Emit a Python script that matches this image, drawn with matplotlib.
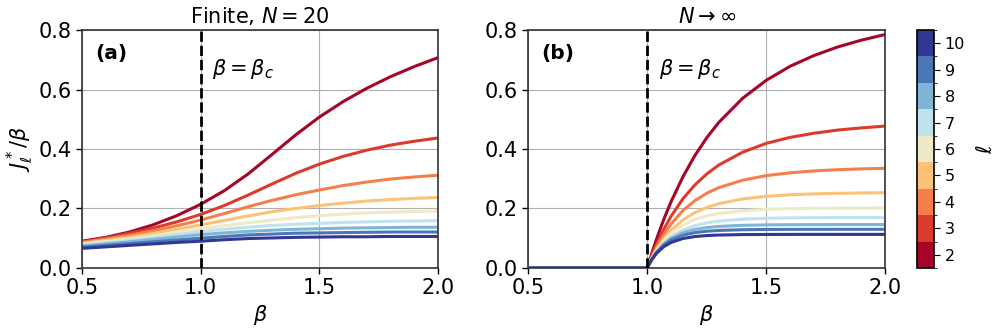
import numpy as np
import matplotlib
matplotlib.use("Agg")
import matplotlib.pyplot as plt
from matplotlib.colors import ListedColormap, BoundaryNorm
from matplotlib.cm import ScalarMappable

ells = [2, 3, 4, 5, 6, 7, 8, 9, 10]
colors = ["#a50527", "#dc3a2c", "#f57f4a", "#fcc275", "#eeeac8",
          "#bfe2ed", "#7db5d8", "#4a78b5", "#323694"]

beta_a = [0.5, 0.6, 0.7, 0.8, 0.9, 1.0, 1.1, 1.2, 1.3, 1.4, 1.5, 1.6, 1.7, 1.8, 1.9, 2.0]
finite = {
    2:  [0.090, 0.103, 0.121, 0.145, 0.176, 0.214, 0.260, 0.316, 0.381, 0.447, 0.507, 0.559, 0.604, 0.643, 0.677, 0.707],
    3:  [0.088, 0.101, 0.117, 0.134, 0.155, 0.180, 0.210, 0.245, 0.282, 0.318, 0.349, 0.375, 0.396, 0.413, 0.426, 0.437],
    4:  [0.086, 0.097, 0.110, 0.125, 0.142, 0.161, 0.183, 0.206, 0.227, 0.246, 0.262, 0.277, 0.289, 0.299, 0.306, 0.312],
    5:  [0.083, 0.093, 0.104, 0.116, 0.130, 0.145, 0.160, 0.175, 0.189, 0.200, 0.210, 0.218, 0.225, 0.230, 0.234, 0.237],
    6:  [0.080, 0.089, 0.098, 0.108, 0.120, 0.132, 0.142, 0.152, 0.161, 0.169, 0.176, 0.181, 0.185, 0.188, 0.190, 0.191],
    7:  [0.077, 0.085, 0.093, 0.102, 0.112, 0.122, 0.130, 0.137, 0.143, 0.147, 0.150, 0.153, 0.155, 0.157, 0.158, 0.159],
    8:  [0.074, 0.081, 0.088, 0.096, 0.104, 0.112, 0.118, 0.123, 0.127, 0.130, 0.132, 0.134, 0.135, 0.136, 0.137, 0.137],
    9:  [0.070, 0.076, 0.082, 0.088, 0.094, 0.100, 0.106, 0.111, 0.114, 0.117, 0.118, 0.119, 0.120, 0.121, 0.121, 0.121],
    10: [0.066, 0.071, 0.076, 0.081, 0.086, 0.090, 0.095, 0.099, 0.101, 0.103, 0.104, 0.105, 0.105, 0.106, 0.106, 0.106],
}

beta_b = [0.5, 1.0, 1.01, 1.02, 1.04, 1.07, 1.1, 1.15, 1.2, 1.25, 1.3, 1.4, 1.5, 1.6, 1.7, 1.8, 1.9, 2.0]
infinite = {
    2:  [0.0, 0.0, 0.026, 0.052, 0.0996, 0.165, 0.223, 0.307, 0.378, 0.438, 0.489, 0.570, 0.631, 0.678, 0.714, 0.743, 0.766, 0.785],
    3:  [0.0, 0.0, 0.022, 0.043, 0.081, 0.131, 0.174, 0.233, 0.279, 0.316, 0.346, 0.389, 0.419, 0.439, 0.453, 0.4636, 0.471, 0.477],
    4:  [0.0, 0.0, 0.0197, 0.0381, 0.0714, 0.1136, 0.148, 0.193, 0.2264, 0.2512, 0.270, 0.295, 0.3105, 0.320, 0.3263, 0.3304, 0.3332, 0.335],
    5:  [0.0, 0.0, 0.0176, 0.0338, 0.0627, 0.0982, 0.1265, 0.1616, 0.1862, 0.2036, 0.2162, 0.2321, 0.2409, 0.2461, 0.2491, 0.2510, 0.2522, 0.253],
    6:  [0.0, 0.0, 0.0173, 0.0330, 0.0602, 0.0923, 0.1166, 0.1449, 0.1632, 0.1752, 0.1833, 0.1926, 0.1971, 0.1994, 0.2007, 0.2014, 0.2018, 0.202],
    7:  [0.0, 0.0, 0.0161, 0.0305, 0.0552, 0.0836, 0.1045, 0.128, 0.1425, 0.1517, 0.1577, 0.1641, 0.1671, 0.1685, 0.1692, 0.1695, 0.1697, 0.1698],
    8:  [0.0, 0.0, 0.0164, 0.0309, 0.0548, 0.0812, 0.0995, 0.1187, 0.1296, 0.136, 0.1397, 0.1434, 0.1449, 0.1455, 0.1458, 0.1459, 0.146, 0.146],
    9:  [0.0, 0.0, 0.0163, 0.0305, 0.0534, 0.0779, 0.0941, 0.1103, 0.1189, 0.1236, 0.1262, 0.1286, 0.1295, 0.1298, 0.1299, 0.130, 0.130, 0.130],
    10: [0.0, 0.0, 0.0157, 0.029, 0.0503, 0.072, 0.0859, 0.0991, 0.1057, 0.109, 0.1108, 0.1123, 0.1127, 0.1129, 0.113, 0.113, 0.113, 0.113],
}

FS = 15
plt.rcParams['font.family'] = ['DejaVu Sans']
plt.rcParams['mathtext.fontset'] = 'dejavusans'

fig = plt.figure(figsize=(9.97, 3.32), dpi=100)
axA = fig.add_axes([0.0822, 0.1928, 0.357, 0.7168])
axB = fig.add_axes([0.5299, 0.1928, 0.358, 0.7168])
cax = fig.add_axes([0.9198, 0.1928, 0.0171, 0.7168])

for ax, xs, data, lab in [(axA, beta_a, finite, "(a)"), (axB, beta_b, infinite, "(b)")]:
    ax.grid(True, color="#b0b0b0", lw=0.8, zorder=0)
    for l, c in zip(ells, colors):
        ax.plot(xs, data[l], color=c, lw=2.2, zorder=2, solid_capstyle="butt")
    ax.axvline(1.0, color="black", ls=(0, (3.7, 1.4)), lw=2.0, zorder=3)
    ax.set_xlim(0.5, 2.0)
    ax.set_ylim(0.0, 0.8)
    ax.set_xticks([0.5, 1.0, 1.5, 2.0])
    ax.set_yticks([0.0, 0.2, 0.4, 0.6, 0.8])
    ax.tick_params(labelsize=FS, length=4, width=1.0)
    for s in ax.spines.values():
        s.set_linewidth(1.2)
        s.set_color("#333333")
    ax.set_xlabel(r"$\beta$", fontsize=FS, labelpad=3)
    ax.text(0.037, 0.9, lab, transform=ax.transAxes, fontsize=FS - 0.5,
            fontweight="bold", ha="left", va="center")
    ax.text(1.05, 0.67, r"$\beta = \beta_c$", fontsize=FS, ha="left", va="center")

axA.set_title(r"Finite, $N = 20$", fontsize=FS, pad=5)
axB.set_title(r"$N \to \infty$", fontsize=FS, pad=5)
axA.set_ylabel(r"$J_\ell^*/\beta$", fontsize=FS, labelpad=2)

cmap = ListedColormap(colors)
norm = BoundaryNorm(np.arange(1.5, 11.5, 1.0), cmap.N)
sm = ScalarMappable(norm=norm, cmap=cmap)
cb = fig.colorbar(sm, cax=cax, ticks=ells)
cb.ax.tick_params(labelsize=11.5, length=4)
cb.set_label(r"$\ell$", fontsize=FS, labelpad=8)
cb.outline.set_linewidth(1.2)

fig.savefig("out.png", dpi=100)
